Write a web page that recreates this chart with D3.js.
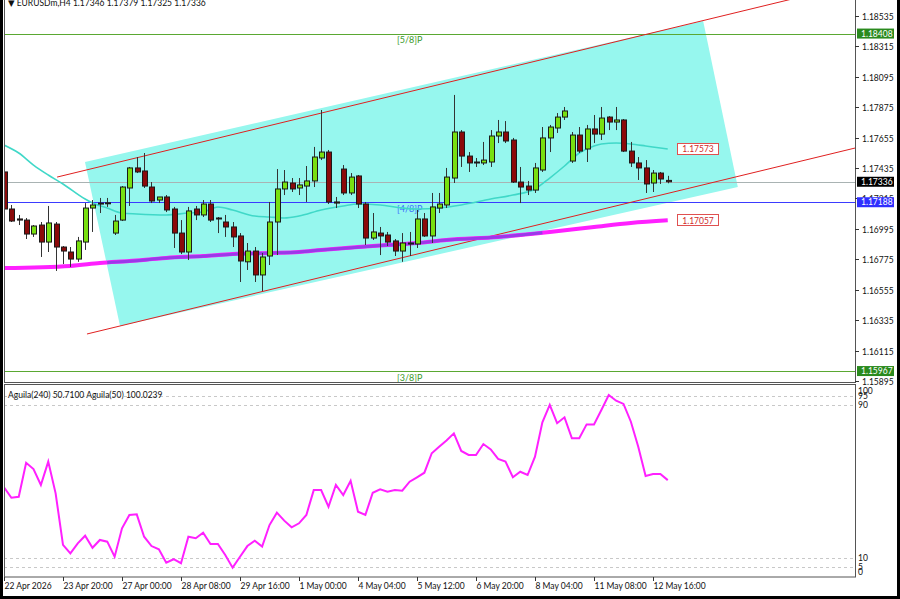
<!DOCTYPE html>
<html><head><meta charset="utf-8">
<script src="https://cdn.jsdelivr.net/npm/d3@7"></script>
<style>body{margin:0;background:#fff}svg{display:block}text{font-family:Lato,"DejaVu Sans",sans-serif}</style>
</head><body><svg id="c" width="900" height="599"></svg>
<script>
// ---------- data ----------
const opens = [1.17407,1.17139,1.17067,1.17059,1.16958,1.17023,1.16900,1.17030,1.16864,1.16828,
1.16777,1.16900,1.17146,1.17182,1.17182,1.16965,1.17059,1.17291,1.17436,1.17414,
1.17298,1.17204,1.17226,1.17139,1.16965,1.16828,1.17139,1.17096,1.17175,1.17074,
1.17045,1.17009,1.16944,1.16757,1.16835,1.16662,1.16799,1.17045,1.17284,1.17327,
1.17291,1.17305,1.17342,1.17508,1.17551,1.17190,1.17428,1.17255,1.17378,1.17175,
1.16929,1.16965,1.16951,1.16908,1.16835,1.16893,1.16886,1.17067,1.16944,1.17146,
1.17168,1.17363,1.17696,1.17522,1.17479,1.17472,1.17479,1.17667,1.17696,1.17638,
1.17334,1.17305,1.17276,1.17421,1.17653,1.17725,1.17804,1.17486,1.17674,1.17573,
1.17718,1.17681,1.17804,1.17768,1.17783,1.17558,1.17472,1.17436,1.17327,1.17399,1.17346];
const highs = [1.17436,1.17168,1.17096,1.17074,1.17023,1.17045,1.17161,1.17045,1.16871,1.16864,
1.16937,1.17182,1.17204,1.17219,1.17219,1.17096,1.17305,1.17443,1.17515,1.17544,
1.17334,1.17226,1.17240,1.17154,1.17059,1.17154,1.17161,1.17204,1.17204,1.17081,
1.17096,1.17045,1.16965,1.16893,1.16864,1.16821,1.17190,1.17428,1.17421,1.17363,
1.17363,1.17450,1.17588,1.17855,1.17566,1.17226,1.17457,1.17399,1.17385,1.17190,
1.17110,1.17009,1.16973,1.16922,1.16965,1.16973,1.17132,1.17110,1.17255,1.17255,
1.17436,1.17964,1.17710,1.17551,1.17508,1.17624,1.17710,1.17783,1.17775,1.17653,
1.17443,1.17342,1.17472,1.17732,1.17747,1.17833,1.17877,1.17696,1.17732,1.17747,
1.17819,1.17877,1.17811,1.17877,1.17790,1.17624,1.17515,1.17493,1.17421,1.17407,1.17379];
const lows = [1.17117,1.17045,1.17023,1.16922,1.16937,1.16792,1.16828,1.16691,1.16741,1.16720,
1.16757,1.16843,1.16973,1.17110,1.17154,1.16951,1.17052,1.17161,1.17399,1.17291,
1.17182,1.17182,1.17117,1.16857,1.16813,1.16770,1.17059,1.17081,1.17045,1.16965,
1.16937,1.16864,1.16611,1.16698,1.16611,1.16546,1.16734,1.16806,1.17240,1.17262,
1.17240,1.17190,1.17298,1.17493,1.17175,1.17146,1.17240,1.17240,1.17146,1.16879,
1.16915,1.16806,1.16871,1.16799,1.16757,1.16799,1.16857,1.16937,1.16893,1.17110,
1.17146,1.17327,1.17443,1.17407,1.17443,1.17457,1.17443,1.17616,1.17616,1.17327,
1.17182,1.17240,1.17255,1.17407,1.17551,1.17689,1.17783,1.17472,1.17544,1.17479,
1.17616,1.17638,1.17710,1.17710,1.17551,1.17443,1.17349,1.17255,1.17262,1.17320,1.17325];
const closes = [1.17139,1.17052,1.17059,1.16958,1.17016,1.16900,1.17038,1.16864,1.16835,1.16777,
1.16908,1.17146,1.17168,1.17180,1.17184,1.17052,1.17298,1.17436,1.17407,1.17305,
1.17197,1.17226,1.17132,1.16965,1.16828,1.17125,1.17096,1.17175,1.17059,1.17070,
1.17009,1.16937,1.16763,1.16835,1.16662,1.16792,1.17045,1.17284,1.17334,1.17284,
1.17313,1.17342,1.17515,1.17551,1.17190,1.17182,1.17255,1.17370,1.17175,1.16929,
1.16973,1.16944,1.16900,1.16835,1.16893,1.16890,1.17067,1.16944,1.17154,1.17175,
1.17370,1.17696,1.17522,1.17472,1.17475,1.17493,1.17667,1.17696,1.17631,1.17334,
1.17298,1.17276,1.17436,1.17653,1.17732,1.17804,1.17848,1.17674,1.17558,1.17718,
1.17681,1.17797,1.17768,1.17783,1.17558,1.17472,1.17436,1.17320,1.17399,1.17356,1.17336];

const maFastBars = [0,2,4,6,8,11,12,14,16,18,22,25,27,29,31,34,36,38,40,43,46,48,51,54,56,59,62,66,69,72,74,76,78,80,81,83,85,87,89,90];
const maFastVals = [1.17602,1.17544,1.17457,1.17385,1.17320,1.17211,1.17182,1.17146,1.17110,1.17103,
1.17096,1.17110,1.17117,1.17154,1.17132,1.17088,1.17081,1.17074,1.17088,1.17132,
1.17161,1.17175,1.17168,1.17146,1.17139,1.17146,1.17168,1.17211,1.17240,1.17284,
1.17363,1.17450,1.17544,1.17595,1.17609,1.17616,1.17609,1.17595,1.17580,1.17573];
const maSlowBars = [0,9,13,17,22,27,31,36,40,43,48,52,56,60,67,74,80,85,90];
const maSlowVals = [1.16712,1.16727,1.16748,1.16763,1.16785,1.16799,1.16813,1.16821,1.16828,1.16843,1.16864,1.16879,1.16893,1.16915,1.16937,1.16973,1.17009,1.17038,1.17057];
const maMidBars = [14,17,22,27,31,36,40,43,48,52,56,60,67,73];
const maMidVals = [1.16752,1.16762,1.16784,1.16798,1.16812,1.16820,1.16828,1.16842,1.16863,1.16878,1.16892,1.16914,1.16936,1.16968];

const aguila = [47.0,41.5,42.0,59.8,56.5,48.2,60.4,43.8,16.8,12.4,
17.6,21.6,15.3,19.4,18.5,10.6,25.5,32.5,32.8,21.1,
16.2,14.5,7.5,9.3,7.2,21.1,20.3,23.2,17.3,17.3,
11.5,4.9,10.6,16.2,19.0,15.9,27.2,33.7,29.5,26.0,
28.1,32.5,45.5,45.5,36.8,48.2,42.9,50.4,34.2,32.5,
44.1,45.9,44.7,45.5,45.2,49.9,52.2,54.6,64.8,68.2,
71.5,75.2,66.0,63.9,63.9,69.6,66.8,61.8,60.4,52.2,
55.1,53.4,63.0,81.0,90.1,80.5,83.6,72.6,72.6,79.9,
79.9,87.4,95.3,92.3,90.6,81.3,68.2,52.9,53.9,53.9,50.71];

const timeLabels = ["22 Apr 2026","23 Apr 20:00","27 Apr 00:00","28 Apr 08:00","29 Apr 16:00","1 May 00:00","4 May 04:00","5 May 12:00","6 May 20:00","8 May 04:00","11 May 08:00","12 May 16:00"];
const timeLabelBars = [0,8,16,24,32,40,48,56,64,72,80,88];
const priceTicks = [1.18535,1.18315,1.18095,1.17875,1.17655,1.17435,1.17215,1.16995,1.16775,1.16555,1.16335,1.16115,1.15895];
const indLevels = [95,90,10,5];
const indLabels = [100,95,90,10,5,0];

const murrey = [{p:1.18408,t:"[5/8]P"},{p:1.17188,t:"[4/8]P"},{p:1.15967,t:"[3/8]P"}];
const bidPrice = 1.17336;
const channelPoly = [[10.98,1.17479],[94.8,1.18499],[99.5,1.17298],[15.73,1.16293]];
const channelUpper = [[7.2,1.17370],[90,1.18440]];
const channelLower = [[11.25,1.16235],[90,1.17252]];

// ---------- layout ----------
const svg = d3.select("#c");
const L = 4, R = 855, MT = 0, MB = 382, IT = 385, IB = 577;
const x = d3.scaleLinear().domain([0,115.39]).range([L,R]);
const y = d3.scaleLinear().domain([1.15895,1.18535]).range([381,16]);
const yi = d3.scaleLinear().domain([0,100]).range([577,386]);

svg.append("rect").attr("width",900).attr("height",599).attr("fill","#fff");
const defs = svg.append("defs");
defs.append("clipPath").attr("id","cm").append("rect").attr("x",L).attr("y",MT).attr("width",R-L).attr("height",MB-MT);
defs.append("clipPath").attr("id","ci").append("rect").attr("x",L).attr("y",IT).attr("width",R-L).attr("height",IB-IT);

const gm = svg.append("g").attr("clip-path","url(#cm)");

// channel fill
gm.append("path").attr("d", d3.line().x(d=>x(d[0])).y(d=>y(d[1]))(channelPoly)+"Z").attr("fill","#96f7ee");

// murrey lines
const mcol = {"[5/8]P":"#5aa832","[4/8]P":"#3b3bff","[3/8]P":"#5aa832"};
murrey.forEach(m=>{
  gm.append("line").attr("x1",L).attr("x2",R).attr("y1",Math.round(y(m.p))+0.5).attr("y2",Math.round(y(m.p))+0.5).attr("stroke",mcol[m.t]).attr("stroke-width",1);
  gm.append("text").attr("x",397).attr("y",y(m.p)+9.5).attr("font-size",9).attr("fill",m.t==="[4/8]P"?"#3b6bff":"#3a9a2a").text(m.t);
});
// bid line
gm.append("line").attr("x1",L).attr("x2",R).attr("y1",Math.round(y(bidPrice))+0.5).attr("y2",Math.round(y(bidPrice))+0.5).attr("stroke","#a9b3b3").attr("stroke-width",1);

// channel lines (rays)
function ray(pts){
  const [a,b]=pts; const s=(b[1]-a[1])/(b[0]-a[0]); const xe=120;
  return [[a[0],a[1]],[xe,a[1]+s*(xe-a[0])]];
}
[channelUpper,channelLower].forEach(c=>{
  gm.append("path").attr("d",d3.line().x(d=>x(d[0])).y(d=>y(d[1]))(ray(c))).attr("fill","none").attr("stroke","#e02020").attr("stroke-width",1);
});

// slow MAs
const lineS = d3.line().x((d,i)=>x(d[0])).y(d=>y(d[1])).curve(d3.curveMonotoneX);
gm.append("path").attr("d",lineS(maSlowBars.map((b,i)=>[b,maSlowVals[i]]))).attr("fill","none").attr("stroke","#ff20ff").attr("stroke-width",4);
gm.append("path").attr("d",lineS(maMidBars.map((b,i)=>[b,maMidVals[i]]))).attr("fill","none").attr("stroke","#9a3ae8").attr("stroke-width",3);
// fast MA
gm.append("path").attr("d",lineS(maFastBars.map((b,i)=>[b,maFastVals[i]]))).attr("fill","none").attr("stroke","#40d8c8").attr("stroke-width",1.6);

// candles
const idx = d3.range(opens.length);
gm.selectAll("line.w").data(idx).join("line").attr("class","w")
  .attr("x1",i=>Math.round(x(i))+0.5).attr("x2",i=>Math.round(x(i))+0.5)
  .attr("y1",i=>y(highs[i])).attr("y2",i=>y(lows[i])).attr("stroke","#333").attr("stroke-width",1);
gm.selectAll("rect.b").data(idx).join("rect").attr("class","b")
  .attr("x",i=>Math.round(x(i))-2+0.5).attr("width",5)
  .attr("y",i=>y(Math.max(opens[i],closes[i])))
  .attr("height",i=>Math.max(1,Math.abs(y(opens[i])-y(closes[i]))))
  .attr("fill",i=>closes[i]>=opens[i]?"#78e010":"#8b0a0a").attr("stroke","#1a1a1a").attr("stroke-width",1);

// MA value boxes
[[maFastVals[maFastVals.length-1]],[maSlowVals[maSlowVals.length-1]]].forEach(v=>{
  const yy=y(v[0]);
  gm.append("rect").attr("x",677.5).attr("y",Math.round(yy)-5.5).attr("width",41).attr("height",11).attr("fill","#fff").attr("stroke","#e05050");
  gm.append("text").attr("x",698).attr("y",yy+3.2).attr("text-anchor","middle").attr("font-size",8.5).attr("fill","#d02a2a").text(v[0].toFixed(5));
});

// title
svg.append("text").attr("x",8).attr("y",6).attr("font-size",8.5).attr("fill","#111").text("\u25BC EURUSDm,H4  1.17346 1.17379 1.17325 1.17336");

// ---------- indicator ----------
const gi = svg.append("g").attr("clip-path","url(#ci)");
indLevels.forEach(l=>{
  gi.append("line").attr("x1",L).attr("x2",R).attr("y1",Math.round(yi(l))+0.5).attr("y2",Math.round(yi(l))+0.5).attr("stroke","#c8c8c8").attr("stroke-dasharray","3,3");
});
gi.append("path").attr("d",d3.line().x((d,i)=>x(i)).y(d=>yi(d))(aguila)).attr("fill","none").attr("stroke","#ff20ff").attr("stroke-width",2);
svg.append("text").attr("x",8).attr("y",398).attr("font-size",8.5).attr("fill","#111").text("Aguila(240) 50.7100  Aguila(50) 100.0239");

// ---------- frames ----------
svg.append("rect").attr("x",L+0.5).attr("y",-1).attr("width",R-L).attr("height",MB+1.5).attr("fill","none").attr("stroke","#555");
svg.append("rect").attr("x",L+0.5).attr("y",IT-0.5).attr("width",R-L).attr("height",IB-IT+0.5).attr("fill","none").attr("stroke","#555");
svg.append("rect").attr("x",0).attr("y",0).attr("width",3).attr("height",599).attr("fill","#000");
svg.append("rect").attr("x",897).attr("y",0).attr("width",3).attr("height",599).attr("fill","#000");
svg.append("rect").attr("x",0).attr("y",596).attr("width",900).attr("height",3).attr("fill","#000");

// price axis
priceTicks.forEach(p=>{
  const yy=Math.round(y(p))+0.5;
  svg.append("line").attr("x1",R).attr("x2",R+4).attr("y1",yy).attr("y2",yy).attr("stroke","#333");
  svg.append("text").attr("x",R+7).attr("y",yy+3).attr("font-size",8.5).attr("fill","#111").text(p.toFixed(5));
});
// colored price labels
const tags=[{p:1.18408,c:"#2a8a1e"},{p:bidPrice,c:"#000"},{p:1.17188,c:"#2f2fff"},{p:1.15967,c:"#2a8a1e"}];
tags.forEach(t=>{
  const yy=y(t.p);
  svg.append("rect").attr("x",R+2).attr("y",yy-5).attr("width",37).attr("height",10).attr("fill",t.c);
  svg.append("text").attr("x",R+6).attr("y",yy+3.2).attr("font-size",8.5).attr("fill","#fff").text(t.p.toFixed(5));
});
// indicator labels
indLabels.forEach(v=>{
  const yy=Math.max(391,Math.min(572,yi(v)));
  svg.append("text").attr("x",R+3).attr("y",yy+3).attr("font-size",8.5).attr("fill","#111").text(v);
});
// time axis
timeLabelBars.forEach((b,i)=>{
  const xx=Math.round(x(b))+0.5;
  svg.append("line").attr("x1",xx).attr("x2",xx).attr("y1",IB).attr("y2",IB+4).attr("stroke","#333");
  svg.append("text").attr("x",xx).attr("y",589).attr("font-size",8.5).attr("fill","#111").text(timeLabels[i]);
});
</script></body></html>
